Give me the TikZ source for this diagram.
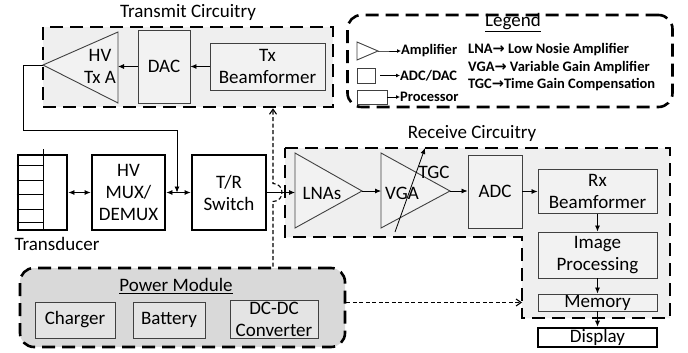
\documentclass[tikz,border=0pt]{standalone}
\usepackage{fontspec}
\setmainfont{Carlito}
\newfontfamily\dv{DejaVu Sans}
\usetikzlibrary{arrows.meta,calc}
\definecolor{regfill}{HTML}{EFEFEF}
\definecolor{pwrfill}{HTML}{D9D9D9}
\definecolor{boxfill}{HTML}{F2F2F2}
\definecolor{pboxfill}{HTML}{E4E4E4}
\definecolor{boxline}{HTML}{404040}
\begin{document}
\begin{tikzpicture}[x=1pt,y=-1pt,
  font=\fontsize{19}{22}\selectfont,
  region/.style={draw=black, line width=2.6pt, dash pattern=on 13pt off 7pt},
  box/.style={draw=boxline, line width=0.9pt, fill=boxfill, align=center, inner sep=0pt},
  pbox/.style={box, fill=pboxfill},
  thickbox/.style={draw=black, line width=2.8pt, fill=white, align=center, inner sep=0pt},
  tri/.style={draw=boxline, line width=0.9pt, fill=boxfill},
  conn/.style={line width=0.8pt, -{Latex[length=6pt,width=5pt]}},
  dconn/.style={line width=0.8pt, {Latex[length=6pt,width=5pt]}-{Latex[length=6pt,width=5pt]}},
  dashconn/.style={line width=1.1pt, dash pattern=on 4pt off 2.5pt, -{Straight Barb[length=5pt,width=7pt]}},
  leg/.style={font=\fontsize{14.5}{16}\selectfont\bfseries, anchor=west, inner sep=0pt},
  lconn/.style={line width=0.8pt, -{Latex[length=4pt,width=4pt]}},
  title/.style={inner sep=0pt}
]
\useasboundingbox (0,0) rectangle (688,353);
\fill[white] (0,0) rectangle (688,353);

% ---------- regions ----------
\node[region, fill=regfill, minimum width=290pt, minimum height=80pt, inner sep=0pt] (txreg) at (188,67) {};
\node[title] (txtitle) at (188,12) {Transmit Circuitry};

\coordinate (r1) at (285,148);
\coordinate (r2) at (670,148);
\coordinate (r3) at (670,318);
\coordinate (r4) at (522,318);
\coordinate (r5) at (522,237);
\coordinate (r6) at (285,237);
\draw[region, fill=regfill] (r1) -- (r2) -- (r3) -- (r4) -- (r5) -- (r6) -- cycle;
\node[title] (rxtitle) at (472,133) {Receive Circuitry};

\node[region, fill=white, rounded corners=14pt, minimum width=325pt, minimum height=92pt, inner sep=0pt] (legend) at (510,61) {};
\node[title] (legtitle) at (513,23) {\underline{Legend}};

\node[region, fill=pwrfill, rounded corners=14pt, minimum width=325pt, minimum height=79pt, inner sep=0pt] (pwr) at (182.5,307.5) {};
\node[title] (pwrtitle) at (176,286) {\underline{Power Module}};

% ---------- transmit ----------
\coordinate (ampT) at (118,32);
\coordinate (ampB) at (118,103);
\coordinate (ampTip) at (43,65);
\draw[tri] (ampT) -- (ampB) -- (ampTip) -- cycle;
\node[align=center, inner sep=0pt] (amp) at (100,66) {HV\\Tx A};
\node[box, minimum width=52pt, minimum height=73pt] (dac) at (164,66.5) {DAC};
\node[box, minimum width=115pt, minimum height=47pt] (txbf) at (267.5,66.5) {Tx\\Beamformer};
\draw[conn] (txbf.west) -- (dac.east);
\draw[conn] (dac.west) -- (dac.west -| ampT);

% ---------- front end ----------
\node[thickbox, minimum width=49pt, minimum height=75pt] (trans) at (42.5,192.5) {};
\coordinate (tv) at (43,149);
\draw[line width=0.8pt] (tv) -- (tv |- trans.south);
\foreach \yy in {165,180,194,209,222}{
  \draw[line width=0.8pt] (trans.west |- 0,\yy) -- (tv |- 0,\yy);
}
\node[title] (transl) at (57,244) {Transducer};
\node[thickbox, minimum width=73pt, minimum height=75pt] (mux) at (128.5,192.5) {HV\\MUX/\\DEMUX};
\node[thickbox, minimum width=74pt, minimum height=75pt] (tr) at (229,192.5) {T/R\\Switch};
\draw[dconn] (trans.east) -- (mux.west);
\draw[dconn] (mux.east) -- (tr.west);
\coordinate (txin) at (177,192.5);
\draw[conn] (ampTip) -- ++(-20,0) |- ($(txin)+(0,-62.5)$) -- (txin);

% ---------- receive ----------
\coordinate (lnaT) at (295,153);
\coordinate (lnaB) at (295,228);
\coordinate (lnaTip) at (362,191);
\draw[tri] (lnaT) -- (lnaB) -- (lnaTip) -- cycle;
\node[inner sep=0pt] (lna) at (322,193) {LNAs};
\coordinate (vgaT) at (381,153);
\coordinate (vgaB) at (381,228);
\coordinate (vgaTip) at (450,191);
\draw[tri] (vgaT) -- (vgaB) -- (vgaTip) -- cycle;
\node[inner sep=0pt] (vga) at (402,193) {VGA};
\coordinate (tgcA) at (395,232);
\coordinate (tgcB) at (425,148);
\draw[conn] (tgcA) -- (tgcB);
\node[inner sep=0pt] (tgc) at (434,172) {TGC};
\node[box, minimum width=54pt, minimum height=73pt] (adc) at (495,191.5) {ADC};
\node[box, minimum width=119pt, minimum height=44pt] (rxbf) at (597.5,191.5) {Rx\\Beamformer};
\node[box, minimum width=119pt, minimum height=46pt] (imp) at (597.5,255) {Image\\Processing};
\node[box, minimum width=119pt, minimum height=17pt] (mem) at (597.5,302.5) {Memory};
\node[thickbox, line width=2.6pt, minimum width=119pt, minimum height=19pt] (disp) at (597.5,337.5) {Display};

\draw[conn] (tr.east) -- (tr.east -| lnaT);
\draw[conn] (lnaTip) -- (lnaTip -| vgaT);
\draw[conn] (vgaTip) -- (adc.west |- vgaTip);
\draw[conn] (adc.east) -- (rxbf.west);
\draw[conn] (rxbf.south) -- (imp.north);
\draw[conn] (imp.south) -- (mem.north);
\draw[conn] (mem.south) -- (disp.north);

% ---------- power ----------
\node[pbox, minimum width=80pt, minimum height=36pt] (chg) at (75,320) {Charger};
\node[pbox, minimum width=72pt, minimum height=36pt] (bat) at (169,320) {Battery};
\node[pbox, minimum width=88pt, minimum height=38pt] (dcdc) at (274,319) {DC-DC\\Converter};

\coordinate (vx) at (273,0);
\draw[dashconn] (pwr.north -| vx) -- ($(tr.east -| vx)+(0,9)$)
  .. controls ($(tr.east -| vx)+(12,9)$) and ($(tr.east -| vx)+(12,-9)$) .. ($(tr.east -| vx)+(0,-9)$)
  -- (txreg.south -| vx);
\draw[dashconn] (pwr.east |- mem.west) -- (r5 |- mem.west);

% ---------- legend ----------
\coordinate (lgT) at (357,42);
\coordinate (lgB) at (357,60);
\coordinate (lgTip) at (378,51);
\draw[tri, fill=white] (lgT) -- (lgB) -- (lgTip) -- cycle;
\node[leg] (lamp) at (401,51) {Amplifier};
\draw[lconn] (lgTip) -- ++(4,0) -- (lamp.west);
\node[draw=boxline, line width=0.9pt, minimum width=18pt, minimum height=15pt, inner sep=0pt] (lsq) at (366,75.5) {};
\node[leg] (ladc) at (400,75.5) {ADC/DAC};
\draw[lconn] ($(lsq.east)+(5,0)$) -- (ladc.west);
\node[draw=boxline, line width=0.9pt, minimum width=30pt, minimum height=14pt, inner sep=0pt] (lrect) at (372,97) {};
\node[leg] (lproc) at (400,97) {Processor};
\draw[lconn] (lrect.east) -- (lproc.west);
\node[leg] (l1) at (468,50) {LNA{\dv\bfseries\fontsize{14.5}{16}\selectfont →} Low Nosie Amplifier};
\node[leg] (l2) at (468,67.5) {VGA{\dv\bfseries\fontsize{14.5}{16}\selectfont →} Variable Gain Amplifier};
\node[leg] (l3) at (468,85) {TGC{\dv\bfseries\fontsize{14.5}{16}\selectfont →}Time Gain Compensation};
\end{tikzpicture}
\end{document}
